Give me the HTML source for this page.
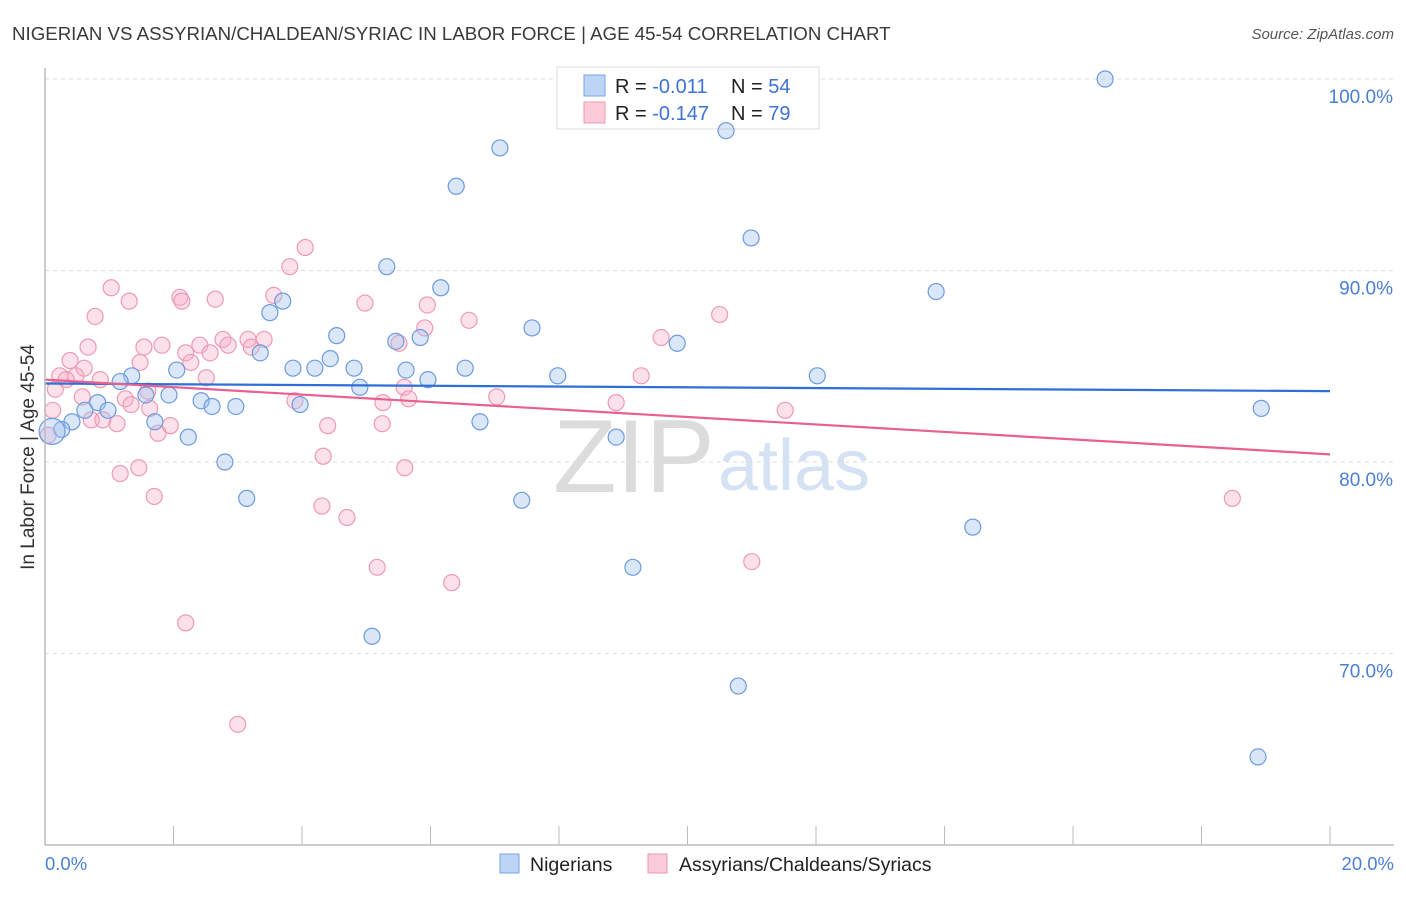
<!DOCTYPE html>
<html><head><meta charset="utf-8">
<style>
body{margin:0;background:#fff;font-family:"Liberation Sans",sans-serif;}
svg text{font-family:"Liberation Sans",sans-serif;}
</style></head>
<body>
<svg id="chart" width="1406" height="892" xmlns="http://www.w3.org/2000/svg">
<text x="12" y="40" font-size="18.7" fill="#3a3a3a">NIGERIAN VS ASSYRIAN/CHALDEAN/SYRIAC IN LABOR FORCE | AGE 45-54 CORRELATION CHART</text>
<text x="1394" y="39" font-size="15" fill="#555" font-style="italic" text-anchor="end">Source: ZipAtlas.com</text>
<text transform="translate(34,457) rotate(-90)" font-size="19" fill="#333" text-anchor="middle">In Labor Force | Age 45-54</text>
<text x="553" y="492" font-size="104" fill="#dcdcdc" font-family="Liberation Serif">ZIP</text>
<text x="718" y="490" font-size="72" fill="#d4e2f4">atlas</text>
<g id="grid"></g>
<g>
<rect x="557" y="67" width="262" height="62" fill="#fff" stroke="#ddd"/>
<rect x="584" y="75" width="21" height="21" fill="#bcd4f5" stroke="#7aa3e3"/>
<text x="615" y="93" font-size="20" fill="#222">R = <tspan fill="#3d72d6">-0.011</tspan><tspan x="731">N = </tspan><tspan fill="#3d72d6">54</tspan></text>
<rect x="584" y="102" width="21" height="21" fill="#fccbd9" stroke="#ec98b2"/>
<text x="615" y="120" font-size="20" fill="#222">R = <tspan fill="#3d72d6">-0.147</tspan><tspan x="731">N = </tspan><tspan fill="#3d72d6">79</tspan></text>
</g>
<g id="pts"></g>
<g id="lines"></g>
<line x1="45" y1="845" x2="1394" y2="845" stroke="#bbb" stroke-width="1.5"/>
<line x1="45" y1="68" x2="45" y2="845" stroke="#bbb" stroke-width="1.5"/>
<text x="45" y="870" font-size="18.5" fill="#4a7fd6">0.0%</text>
<text x="1394" y="870" font-size="18.5" fill="#4a7fd6" text-anchor="end">20.0%</text>
<g>
<rect x="500" y="854" width="19" height="19" fill="#bcd4f5" stroke="#7aa3e3"/>
<text x="530" y="871" font-size="19.5" fill="#222">Nigerians</text>
<rect x="648" y="854" width="19" height="19" fill="#fccbd9" stroke="#ec98b2"/>
<text x="679" y="871" font-size="19.5" fill="#222">Assyrians/Chaldeans/Syriacs</text>
</g>
</svg>
<script>
const yTicks=[70,80,90,100];
const yTickLabels=["70.0%","80.0%","90.0%","100.0%"];
const xTicks=[0,2,4,6,8,10,12,14,16,18,20];
const nigX=[16.50,7.08,10.60,6.40,10.99,5.32,6.16,13.87,3.70,3.50,4.54,7.58,5.84,5.46,9.84,3.35,4.44,2.05,3.86,4.20,4.81,5.62,6.54,1.35,7.98,12.02,5.96,1.17,4.90,1.93,1.57,0.82,2.43,2.60,2.97,3.97,0.62,0.98,18.93,1.71,6.77,0.42,0.26,0.11,2.23,8.89,2.80,3.14,7.42,14.44,9.15,5.09,10.79,18.88];
const nigY=[100.0,96.4,97.3,94.4,91.7,90.2,89.1,88.9,88.4,87.8,86.6,87.0,86.5,86.3,86.2,85.7,85.4,84.8,84.9,84.9,84.9,84.8,84.9,84.5,84.5,84.5,84.3,84.2,83.9,83.5,83.5,83.1,83.2,82.9,82.9,83.0,82.7,82.7,82.8,82.1,82.1,82.1,81.7,81.6,81.3,81.3,80.0,78.1,78.0,76.6,74.5,70.9,68.3,64.6];
const assX=[4.05,3.81,1.03,2.10,2.13,1.31,2.65,3.56,4.98,5.95,0.78,6.60,10.50,5.91,9.59,2.77,3.16,3.41,0.67,1.54,1.82,2.41,2.85,5.51,2.19,2.57,3.21,0.39,1.48,2.27,0.48,0.23,0.61,0.86,2.51,9.28,0.33,0.16,1.60,5.59,0.58,1.25,7.03,5.66,3.89,5.26,8.89,1.34,1.63,0.12,11.52,0.72,0.90,1.12,1.95,4.40,5.25,1.76,0.05,4.33,1.46,5.60,1.17,1.70,18.48,4.31,4.70,5.17,11.00,6.33,2.19,3.00];
const assY=[91.2,90.2,89.1,88.6,88.4,88.4,88.5,88.7,88.3,88.2,87.6,87.4,87.7,87.0,86.5,86.4,86.4,86.4,86.0,86.0,86.1,86.1,86.1,86.2,85.7,85.7,86.0,85.3,85.2,85.2,84.5,84.5,84.9,84.3,84.4,84.5,84.3,83.8,83.7,83.9,83.4,83.3,83.4,83.3,83.2,83.1,83.1,83.0,82.8,82.7,82.7,82.2,82.2,82.0,81.9,81.9,82.0,81.5,81.4,80.3,79.7,79.7,79.4,78.2,78.1,77.7,77.1,74.5,74.8,73.7,71.6,66.3];
const nigTrend=[84.1,83.7];
const assTrend=[84.3,80.4];
const NS="http://www.w3.org/2000/svg";
const xs=v=>45+v/20*1285;
const ys=v=>79+(100-v)/10*191.5;
const grid=document.getElementById('grid');
function mk(tag,attrs,parent){const e=document.createElementNS(NS,tag);for(const k in attrs)e.setAttribute(k,attrs[k]);parent.appendChild(e);return e;}
yTicks.forEach((t,i)=>{
  const l=mk('line',{x1:45,x2:1394,y1:ys(t),y2:ys(t),stroke:'#ddd','stroke-dasharray':'4,4'},grid);
  
  
  const tx=mk('text',{x:1393,y:ys(t)+24,'font-size':19,fill:'#4a7fd6','text-anchor':'end'},grid);
  tx.textContent=yTickLabels[i];
  
  
});
xTicks.forEach(t=>{
  const l=mk('line',{x1:xs(t),x2:xs(t),y1:826,y2:845,stroke:'#bbb'},grid);
  
  
});
const pts=document.getElementById('pts');
assX.forEach((x,i)=>{
  const c=mk('circle',{cx:xs(x),cy:ys(assY[i]),r:8,fill:'rgba(248,170,195,0.35)',stroke:'#ee9ab5','stroke-width':1.2},pts);
  
  
});
nigX.forEach((x,i)=>{
  const c=mk('circle',{cx:xs(x),cy:ys(nigY[i]),r:(i===43?13:8),fill:'rgba(160,195,240,0.4)',stroke:'#6d9ae0','stroke-width':1.2},pts);
  
  
});
const lines=document.getElementById('lines');
const l1=mk('line',{x1:xs(0),y1:ys(nigTrend[0]),x2:xs(20),y2:ys(nigTrend[1]),stroke:'#2f6fd6','stroke-width':2.2},lines);


const l2=mk('line',{x1:xs(0),y1:ys(assTrend[0]),x2:xs(20),y2:ys(assTrend[1]),stroke:'#e6618e','stroke-width':2.2},lines);


</script>
</body></html>
